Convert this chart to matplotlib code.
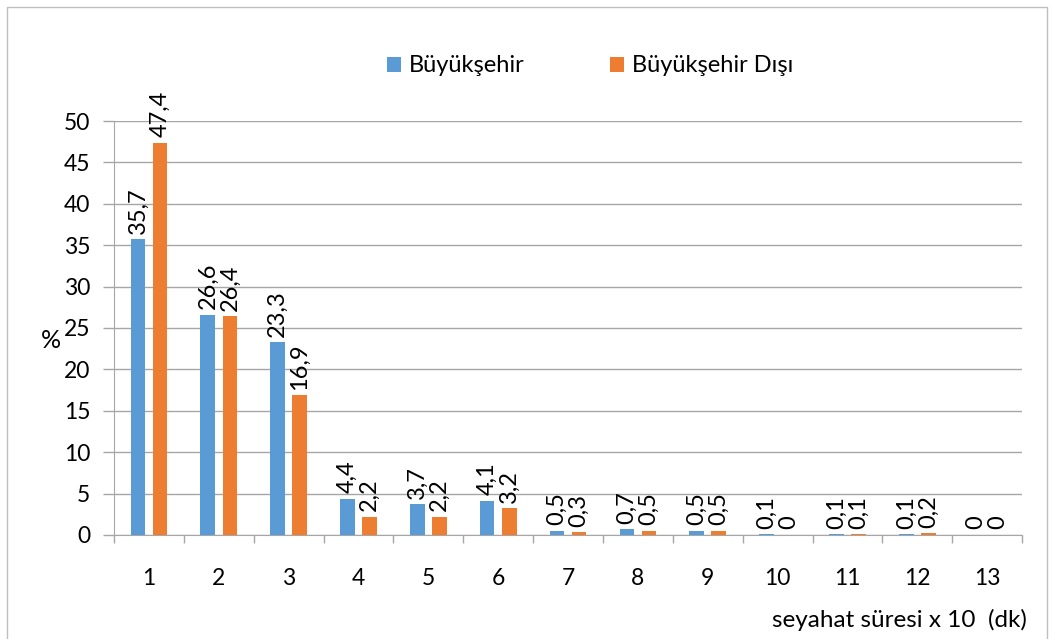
import numpy as np
import matplotlib.pyplot as plt
from matplotlib.patches import Rectangle

categories = [str(i) for i in range(1, 14)]
buyuksehir = [35.7, 26.6, 23.3, 4.4, 3.7, 4.1, 0.5, 0.7, 0.5, 0.1, 0.1, 0.1, 0]
buyuksehir_disi = [47.4, 26.4, 16.9, 2.2, 2.2, 3.2, 0.3, 0.5, 0.5, 0, 0.1, 0.2, 0]

BLUE = "#5B9BD5"
ORANGE = "#ED7D31"
GRID = "#A6A6A6"

plt.rcParams.update({
    "font.family": ["Lato", "DejaVu Sans"],
    "font.size": 16,
})

fig = plt.figure(figsize=(10.53, 6.39), dpi=100)
ax = fig.add_axes([0.1083, 0.1628, 0.8623, 0.6478])

x = np.arange(len(categories))
w = 0.21
off = 0.158
b1 = ax.bar(x - off, buyuksehir, w, color=BLUE, label="Büyükşehir", zorder=3)
b2 = ax.bar(x + off, buyuksehir_disi, w, color=ORANGE, label="Büyükşehir Dışı", zorder=3)

def fmt(v):
    return ("%g" % v).replace(".", ",")

for bars, vals in ((b1, buyuksehir), (b2, buyuksehir_disi)):
    for rect, v in zip(bars, vals):
        ax.annotate(fmt(v), (rect.get_x() + rect.get_width() / 2, rect.get_height()),
                    xytext=(0, 4), textcoords="offset points", rotation=90,
                    ha="center", va="bottom", fontsize=17, color="black")

ax.set_xlim(-0.5, len(categories) - 0.5)
ax.set_ylim(0, 50)
ax.set_yticks(range(0, 51, 5))
ax.set_xticks(x)
ax.set_xticklabels(categories)
ax.set_xticks(np.arange(-0.5, len(categories), 1), minor=True)
ax.tick_params(axis="x", which="major", length=0, pad=24)
ax.tick_params(axis="x", which="minor", length=6, color=GRID, width=1)
ax.tick_params(axis="y", length=8, color=GRID, width=1, pad=9)
ax.tick_params(labelsize=16.5)

ax.yaxis.grid(True, color=GRID, linewidth=1, zorder=0)
ax.set_axisbelow(True)
for s in ("top", "right"):
    ax.spines[s].set_visible(False)
ax.spines["left"].set_color(GRID)
ax.spines["bottom"].set_color(GRID)

fig.text(51 / 1053, 1 - 340 / 639, "%", fontsize=18, ha="center", va="center")
fig.text(1027 / 1053, 1 - 620 / 639, "seyahat süresi x 10  (dk)", fontsize=17.5,
         ha="right", va="center")

fig.legend(handles=[b1, b2], loc="center", bbox_to_anchor=(590 / 1053, 1 - 66 / 639),
           ncol=2, frameon=False, fontsize=17, handlelength=0.6, handleheight=0.6,
           columnspacing=3.6, handletextpad=0.35)

fig.patches.append(Rectangle((7 / 1053, -0.01), 1040 / 1053, 1 - 7 / 639 + 0.01,
                             transform=fig.transFigure, fill=False,
                             edgecolor="#BFBFBF", linewidth=1))

fig.savefig("out.png", dpi=100)
